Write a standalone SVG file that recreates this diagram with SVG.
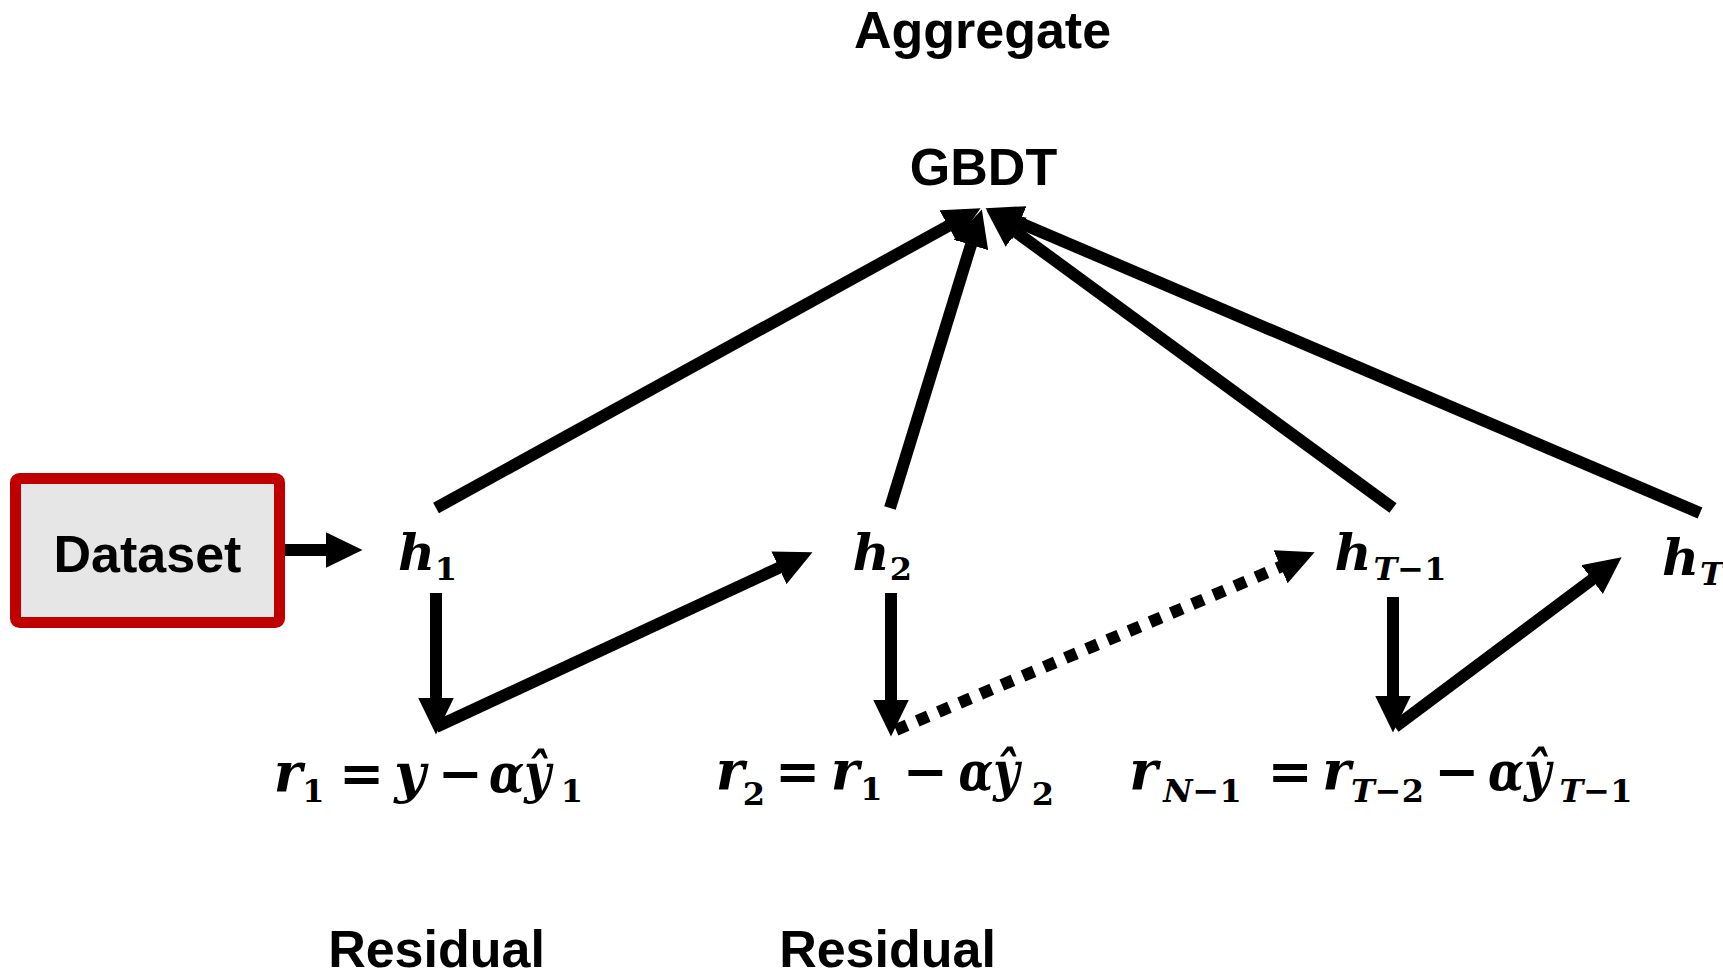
<svg xmlns="http://www.w3.org/2000/svg" width="1723" height="975" viewBox="0 0 1723 975">
  <style>
    .lbl { font-family: "Liberation Sans", Arial, sans-serif; font-weight: bold; font-size: 52px; text-anchor: middle; fill: #000; }
    .mi { font-family: "DejaVu Serif", "Liberation Serif", serif; font-style: italic; font-weight: bold; text-anchor: middle; fill: #000; }
    .mn { font-family: "DejaVu Serif", "Liberation Serif", serif; font-style: normal; font-weight: bold; text-anchor: middle; fill: #000; }
    .big { font-size: 54px; }
    .hl { font-size: 51px; }
    .sub { font-size: 32px; }
    .edge { stroke: #000; stroke-width: 12; fill: none; stroke-linecap: butt; marker-end: url(#head); }
    .dotted { stroke-dasharray: 12 11; }
    .box { fill: #e6e6e6; stroke: #c00000; stroke-width: 11; }
  </style>
  <defs>
    <marker id="head" markerUnits="userSpaceOnUse" viewBox="0 0 37 36" refX="0.5" refY="18" markerWidth="37" markerHeight="36" orient="auto">
      <path d="M0,0 L37,18 L0,36 z" fill="#000"/>
    </marker>
  </defs>

  <rect width="1723" height="975" fill="#fff"/>

  <!-- connectors -->
  <g id="connectors">
    <line class="edge" x1="280" y1="550" x2="326" y2="550"/>
    <line class="edge" x1="436" y1="508" x2="948.6" y2="225.8"/>
    <line class="edge" x1="890" y1="508" x2="971.1" y2="244.4"/>
    <line class="edge" x1="1393" y1="508" x2="1015.9" y2="231.9"/>
    <line class="edge" x1="1700" y1="513" x2="1019" y2="222.5"/>
    <line class="edge" x1="436" y1="593" x2="436" y2="698"/>
    <line class="edge" x1="891" y1="593" x2="891" y2="700"/>
    <line class="edge" x1="1393" y1="597" x2="1393" y2="696"/>
    <line class="edge" x1="436" y1="727" x2="779.4" y2="567.6"/>
    <line class="edge dotted" x1="896" y1="730" x2="1281" y2="566.5"/>
    <line class="edge" x1="1395" y1="727" x2="1592.4" y2="579.2"/>
  </g>

  <g id="aggregate">
    <text class="lbl" x="982.5" y="48">Aggregate</text>
  </g>

  <g id="gbdt">
    <text class="lbl" x="983.5" y="185">GBDT</text>
  </g>

  <g id="dataset">
    <rect class="box" x="15.5" y="478.5" width="264" height="144" rx="4"/>
    <text class="lbl" x="147.5" y="572">Dataset</text>
  </g>

  <g id="h1">
    <text class="mi hl" x="416.5" y="570">h</text>
    <text class="mn sub" x="446" y="580">1</text>
  </g>

  <g id="h2">
    <text class="mi hl" x="871" y="570">h</text>
    <text class="mn sub" x="901" y="580">2</text>
  </g>

  <g id="hT1">
    <text class="mi hl" x="1353" y="570">h</text>
    <text class="mi sub" x="1410" y="580">T<tspan class="mn">−1</tspan></text>
  </g>

  <g id="hT">
    <text class="mi hl" x="1680.5" y="575">h</text>
    <text class="mi sub" x="1712" y="585">T</text>
  </g>

  <g id="r1">
    <text class="mi big" x="288" y="792">r</text>
    <text class="mn sub" x="313.5" y="802">1</text>
    <text class="mn big" x="361.5" y="792">=</text>
    <text class="mi big" x="410" y="792">y</text>
    <text class="mn big" x="460" y="792">−</text>
    <text class="mi big" x="520" y="792" textLength="62" lengthAdjust="spacingAndGlyphs">αŷ</text>
    <text class="mn sub" x="572" y="802">1</text>
  </g>

  <g id="r2">
    <text class="mi big" x="730" y="790">r</text>
    <text class="mn sub" x="754" y="805">2</text>
    <text class="mn big" x="797.5" y="790">=</text>
    <text class="mi big" x="845" y="790">r</text>
    <text class="mn sub" x="871.5" y="800">1</text>
    <text class="mn big" x="925" y="790">−</text>
    <text class="mi big" x="989" y="790" textLength="61" lengthAdjust="spacingAndGlyphs">αŷ</text>
    <text class="mn sub" x="1043" y="805">2</text>
  </g>

  <g id="rN1">
    <text class="mi big" x="1143.5" y="790">r</text>
    <text class="mi sub" x="1202.5" y="802">N<tspan class="mn">−1</tspan></text>
    <text class="mn big" x="1290" y="790">=</text>
    <text class="mi big" x="1336.5" y="790">r</text>
    <text class="mi sub" x="1387.5" y="802">T<tspan class="mn">−2</tspan></text>
    <text class="mn big" x="1456.5" y="790">−</text>
    <text class="mi big" x="1519.5" y="790" textLength="63" lengthAdjust="spacingAndGlyphs">αŷ</text>
    <text class="mi sub" x="1596" y="802">T<tspan class="mn">−1</tspan></text>
  </g>

  <g id="residual1">
    <text class="lbl" x="436.5" y="967">Residual</text>
  </g>
  <g id="residual2">
    <text class="lbl" x="887.5" y="967">Residual</text>
  </g>
</svg>
